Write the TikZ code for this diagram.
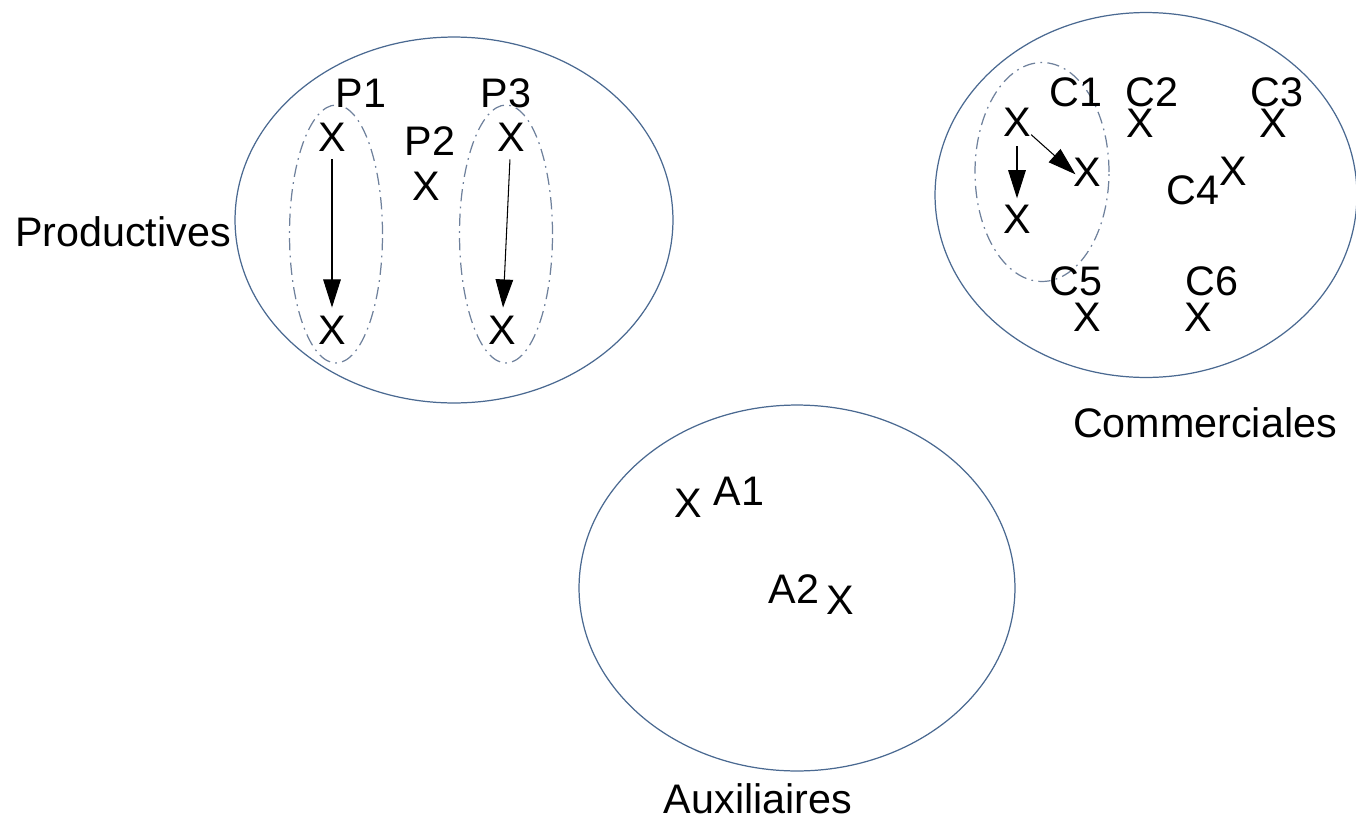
\documentclass[tikz,border=0pt]{standalone}
\usepackage{fontspec}
\setmainfont{Liberation Sans}
\usetikzlibrary{arrows.meta}
\usetikzlibrary{positioning}
\usetikzlibrary{shapes.geometric}

\definecolor{setline}{HTML}{4A6991}
\definecolor{subline}{HTML}{6F819C}

\begin{document}
\begin{tikzpicture}[x=0.02cm,y=-0.02cm,
    every node/.style={font=\fontsize{23.5}{28}\selectfont,inner sep=0},
    bigset/.style={ellipse,draw=setline,line width=0.7pt},
    subset/.style={ellipse,draw=subline,line width=0.7pt,
      dash pattern=on 7pt off 3pt on 1pt off 3pt},
    >={Triangle[length=16pt,width=10pt]}]
  \useasboundingbox (0,0) rectangle (1356,822);

  % Productives
  \node[bigset,minimum width=8.76cm,minimum height=7.32cm] (prod) at (454,220) {};
  \node (prodname) at (123,232) {Productives};
  \node[subset,minimum width=1.86cm,minimum height=5.16cm] (sp1) at (336,234) {};
  \node[subset,minimum width=1.86cm,minimum height=5.16cm] (sp3) at (506,234) {};

  \node (p1a) at (332,137) {X};
  \node (p1b) at (332,330) {X};
  \node (p2)  at (426,186) {X};
  \node (p3a) at (511,137) {X};
  \node (p3b) at (502,330) {X};
  \node (lp1) at (361,93)  {P1};
  \node (lp2) at (430,141) {P2};
  \node (lp3) at (506,93)  {P3};

  % Commerciales
  \node[bigset,minimum width=8.44cm,minimum height=7.3cm] (comm) at (1146,195) {};
  \node (commname) at (1205,423) {Commerciales};
  \node[subset,minimum width=2.68cm,minimum height=4.38cm] (sc1) at (1042,172) {};

  \node (c1a) at (1017,122) {X};
  \node (c1b) at (1087,172) {X};
  \node (c1c) at (1017,219) {X};
  \node (c2)  at (1140,123) {X};
  \node (c3)  at (1273,123) {X};
  \node (c4)  at (1233,171) {X};
  \node (c5)  at (1087,317) {X};
  \node (c6)  at (1198,317) {X};
  \node (lc1) at (1076,92)  {C1};
  \node (lc2) at (1152,92)  {C2};
  \node (lc3) at (1277,92)  {C3};
  \node (lc4) at (1193,190) {C4};
  \node (lc5) at (1076,281) {C5};
  \node (lc6) at (1212,281) {C6};

  % Auxiliaires
  \node[bigset,minimum width=8.72cm,minimum height=7.32cm] (aux) at (797,588) {};
  \node (auxname) at (758,799) {Auxiliaires};
  \node (a1)  at (688,503) {X};
  \node (a2)  at (840,600) {X};
  \node (la1) at (739,491) {A1};
  \node (la2) at (794,589) {A2};

  \path[->,line width=0.6pt]
    (p1a) edge [shorten <=4.5pt,shorten >=4.5pt] (p1b)
    (p3a) edge [shorten <=4.5pt,shorten >=4.5pt] (p3b)
    (c1a) edge [shorten <=5.5pt,shorten >=3.5pt] (c1c)
    (c1a) edge [shorten >=-2pt] (c1b.west);
\end{tikzpicture}
\end{document}
